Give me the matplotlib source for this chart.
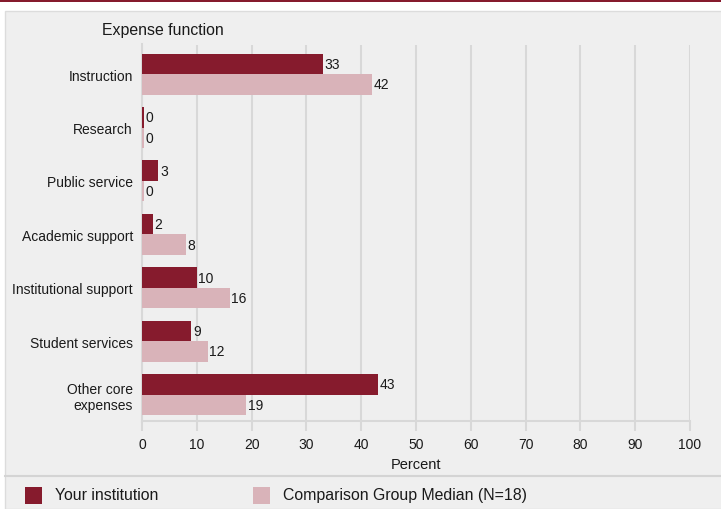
import matplotlib.pyplot as plt
from matplotlib.patches import Rectangle
from matplotlib.lines import Line2D
import numpy as np

plt.rcParams['font.family'] = ['Liberation Sans', 'DejaVu Sans']

categories = ["Instruction", "Research", "Public service", "Academic support",
              "Institutional support", "Student services", "Other core\nexpenses"]
your_inst = [33, 0, 3, 2, 10, 9, 43]
comparison = [42, 0, 0, 8, 16, 12, 19]
series_names = ["Your institution", "Comparison Group Median (N=18)"]
xticks = [0, 10, 20, 30, 40, 50, 60, 70, 80, 90, 100]

dark = '#861b2d'
light = '#d9b3b9'
bg = '#efefef'
grid = '#d8d8d8'
txt = '#1a1a1a'

fig = plt.figure(figsize=(7.21, 5.10), dpi=100)
fig.patch.set_facecolor('white')

# top band and gray panel (kept behind the axes)
fig.add_artist(Rectangle((0, 1 - 3 / 510), 1, 3 / 510, transform=fig.transFigure,
                         facecolor=dark, edgecolor='none', zorder=-2))
fig.add_artist(Rectangle((5 / 721, 0), 1, 1 - 12 / 510, transform=fig.transFigure,
                         facecolor=bg, edgecolor='#dcdcdc', linewidth=1, zorder=-2))
fig.add_artist(Line2D([5 / 721, 1], [1 - 477 / 510] * 2, transform=fig.transFigure,
                      color='#d4d4d4', linewidth=1.5, zorder=-1))

ax = fig.add_axes([142 / 721, 1 - 421.5 / 510, 548 / 721, 376 / 510])
ax.set_facecolor(bg)

y = np.arange(len(categories))
h = 0.384
min_w = 0.35  # so zero values still show as a sliver
w1 = [max(v, min_w) for v in your_inst]
w2 = [max(v, min_w) for v in comparison]
ax.barh(y - h / 2, w1, height=h, color=dark, zorder=3)
ax.barh(y + h / 2, w2, height=h, color=light, zorder=3)

for i in range(len(categories)):
    ax.text(w1[i] + 0.3, y[i] - h / 2, str(your_inst[i]), va='center', ha='left',
            fontsize=10, color=txt)
    ax.text(w2[i] + 0.3, y[i] + h / 2, str(comparison[i]), va='center', ha='left',
            fontsize=10, color=txt)

ax.set_xlim(0, 100)
ax.set_ylim(len(categories) - 1 + 0.486, -0.556)
ax.set_xticks(xticks)
ax.set_xticklabels([str(t) for t in xticks], fontsize=10, color=txt)
ax.set_yticks(y)
ax.set_yticklabels(categories, fontsize=10, color=txt, linespacing=1.15)
ax.tick_params(axis='x', length=7, width=1.5, color=grid, pad=5)
ax.tick_params(axis='y', length=0, pad=6.5)
ax.xaxis.grid(True, color=grid, linewidth=1.5, zorder=0)
ax.set_axisbelow(True)
for s in ['top', 'right']:
    ax.spines[s].set_visible(False)
ax.spines['left'].set_color(grid)
ax.spines['left'].set_linewidth(1.5)
ax.spines['bottom'].set_color(grid)
ax.spines['bottom'].set_linewidth(1.5)
ax.set_xlabel("Percent", fontsize=10.5, color=txt, labelpad=4)

fig.text(163 / 721, 1 - 31 / 510, "Expense function", ha='center', va='center',
         fontsize=11.4, color=txt)

# legend
fig.add_artist(Rectangle((25 / 721, 1 - 505 / 510), 17 / 721, 17 / 510,
                         transform=fig.transFigure, facecolor=dark, edgecolor='none'))
fig.text(55 / 721, 1 - 496 / 510, series_names[0], ha='left', va='center',
         fontsize=11.4, color=txt)
fig.add_artist(Rectangle((253 / 721, 1 - 505 / 510), 17 / 721, 17 / 510,
                         transform=fig.transFigure, facecolor=light, edgecolor='none'))
fig.text(283 / 721, 1 - 496 / 510, series_names[1], ha='left', va='center',
         fontsize=11.4, color=txt)

fig.savefig('out.png', dpi=100, facecolor=fig.get_facecolor())
